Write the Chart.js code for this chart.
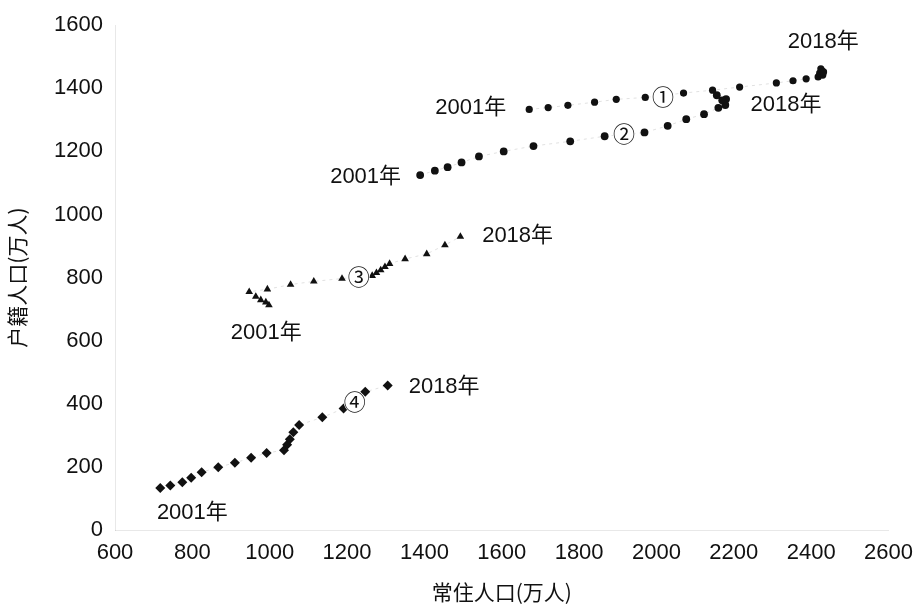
<!DOCTYPE html>
<html lang="zh">
<head>
<meta charset="UTF-8">
<title>常住人口与户籍人口</title>
<script src="https://cdn.jsdelivr.net/npm/chart.js@4.4.0/dist/chart.umd.min.js"></script>
<style>
  body { margin: 0; background: #fff; }
  .box { width: 923px; height: 609px; position: relative; }
</style>
</head>
<body>
<div class="box"><canvas id="chart"></canvas></div>
<script>
// 常住人口 (x) / 户籍人口 (y), 2001-2018, 单位: 万人
const xTicks = [600, 800, 1000, 1200, 1400, 1600, 1800, 2000, 2200, 2400, 2600];
const yTicks = [0, 200, 400, 600, 800, 1000, 1200, 1400, 1600];

const s1X = [1671, 1720, 1771, 1840, 1896, 1971, 2070, 2145, 2215, 2310, 2353, 2387, 2418, 2430, 2422, 2428, 2425, 2432];
const s1Y = [1333, 1339, 1346, 1356, 1365, 1371, 1385, 1394, 1404, 1417, 1424, 1430, 1436, 1442, 1448, 1455, 1462, 1452];

const s2X = [1389, 1427, 1460, 1496, 1541, 1605, 1682, 1777, 1866, 1969, 2029, 2077, 2123, 2160, 2178, 2180, 2170, 2156];
const s2Y = [1125, 1139, 1150, 1165, 1184, 1200, 1217, 1232, 1248, 1260, 1281, 1302, 1318, 1338, 1347, 1366, 1362, 1378];

const s3X = [998, 990, 977, 964, 947, 994, 1054, 1114, 1187, 1265, 1276, 1287, 1298, 1310, 1350, 1406, 1453, 1493];
const s3Y = [713, 722, 729, 740, 755, 763, 778, 788, 797, 806, 815, 824, 834, 844, 859, 875, 903, 930];

const s4X = [717, 743, 774, 797, 824, 867, 910, 952, 992, 1037, 1045, 1052, 1061, 1076, 1136, 1191, 1247, 1305];
const s4Y = [133, 141, 151, 166, 183, 199, 213, 229, 244, 253, 270, 288, 310, 333, 357, 385, 438, 458];

// text notes: label, x, y (data units)
const noteText = ['2001年', '2018年', '①', '2001年', '②', '2018年', '2001年', '2018年', '③', '2001年', '2018年', '④'];
const noteX = [1520, 2431, 2017, 1248, 1916, 2335, 991, 1641, 1230, 800, 1451, 1220];
const noteY = [1338, 1547, 1372, 1119, 1256, 1347, 625, 931, 803, 53, 453, 406];

function pts(xs, ys) {
  return xs.map((x, i) => ({ x: x, y: ys[i] }));
}

const notesPlugin = {
  id: 'notes',
  afterDatasetsDraw(chart) {
    const c = chart.ctx;
    const sx = chart.scales.x, sy = chart.scales.y;
    c.save();
    c.textAlign = 'center';
    c.textBaseline = 'middle';
    noteText.forEach((t, i) => {
      const px = sx.getPixelForValue(noteX[i]);
      const py = sy.getPixelForValue(noteY[i]);
      if (t.length === 1) {
        c.fillStyle = '#fff';
        c.beginPath();
        c.arc(px, py, 11, 0, Math.PI * 2);
        c.fill();
        c.fillStyle = '#111';
        c.font = '22px "Noto Sans CJK SC"';
      } else {
        c.fillStyle = '#111';
        c.font = '22px "Liberation Sans", "Noto Sans CJK SC"';
      }
      c.fillText(t, px, py);
    });
    c.restore();
  }
};

function ds(label, data, style, radius) {
  return {
    label: label,
    data: data,
    pointStyle: style,
    pointRadius: radius,
    pointBackgroundColor: '#111',
    pointBorderColor: '#111',
    pointBorderWidth: 0,
    showLine: true,
    borderColor: 'rgba(0,0,0,0.12)',
    borderWidth: 1,
    borderDash: [3, 4]
  };
}

new Chart(document.getElementById('chart'), {
  type: 'scatter',
  data: {
    datasets: [
      ds('①', pts(s1X, s1Y), 'circle', 3.6),
      ds('②', pts(s2X, s2Y), 'circle', 3.9),
      ds('③', pts(s3X, s3Y), 'triangle', 4.4),
      ds('④', pts(s4X, s4Y), 'rectRot', 5)
    ]
  },
  options: {
    responsive: true,
    maintainAspectRatio: false,
    animation: false,
    layout: { padding: { top: 18, right: 30, left: 0, bottom: 0 } },
    plugins: {
      legend: { display: false },
      tooltip: { enabled: false }
    },
    scales: {
      x: {
        type: 'linear',
        min: 600,
        max: 2600,
        afterBuildTicks: s => { s.ticks = xTicks.map(v => ({ value: v })); },
        afterFit: s => { s.height = 79; },
        grid: { display: false, drawTicks: false },
        border: { display: true, color: 'rgba(0,0,0,0.09)', dash: [2, 7] },
        ticks: {
          padding: 10,
          color: '#111',
          font: { family: 'Liberation Sans', size: 22 },
          maxRotation: 0,
          callback: v => String(v)
        },
        title: {
          display: true,
          text: '常住人口(万人)',
          color: '#111',
          font: { family: 'Noto Sans CJK SC', size: 21 },
          padding: { top: 0 }
        }
      },
      y: {
        type: 'linear',
        min: 0,
        max: 1600,
        afterBuildTicks: s => { s.ticks = yTicks.map(v => ({ value: v })); },
        afterFit: s => { s.width = 115; },
        grid: { display: false, drawTicks: false },
        border: { display: true, color: 'rgba(0,0,0,0.09)', dash: [2, 7] },
        ticks: {
          padding: 12,
          color: '#111',
          font: { family: 'Liberation Sans', size: 22 },
          callback: v => String(v)
        },
        title: {
          display: true,
          text: '户籍人口(万人)',
          color: '#111',
          font: { family: 'Noto Sans CJK SC', size: 21 },
          padding: { bottom: 0 }
        }
      }
    }
  },
  plugins: [notesPlugin]
});
</script>
</body>
</html>
